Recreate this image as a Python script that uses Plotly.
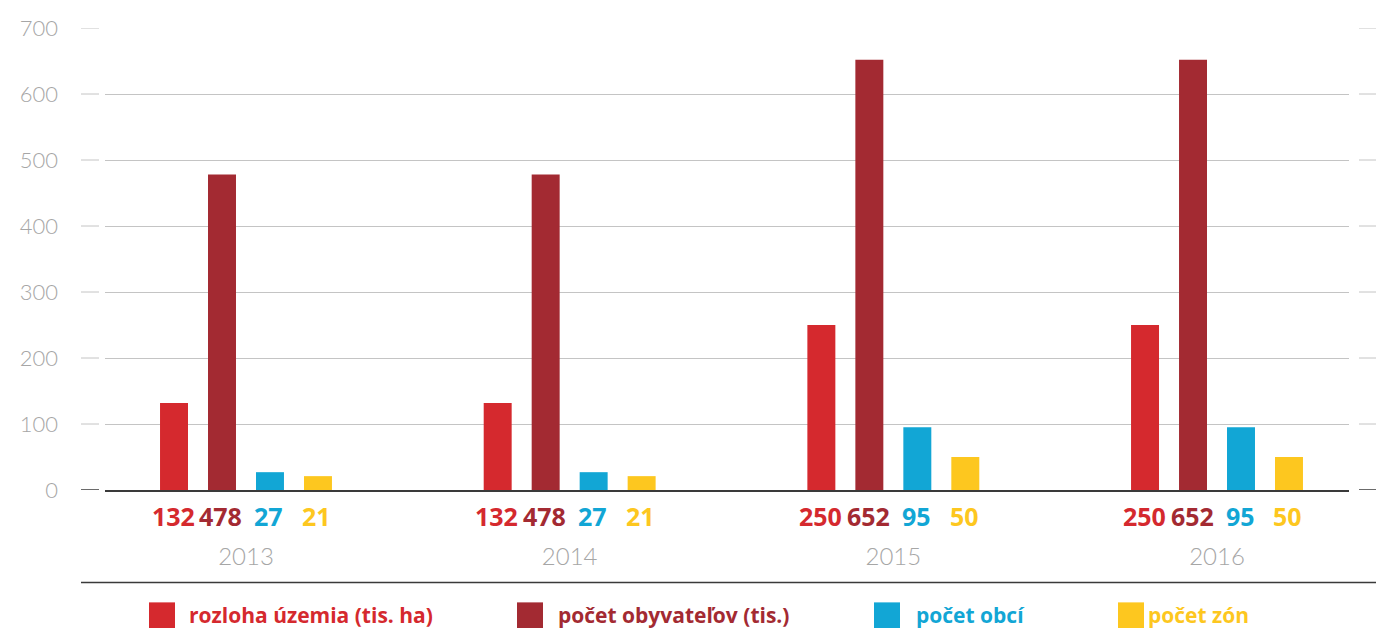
import plotly.graph_objects as go

# ---- data ----
years = ["2013", "2014", "2015", "2016"]
series_names = ["rozloha územia (tis. ha)", "počet obyvateľov (tis.)", "počet obcí", "počet zón"]
rozloha = [132, 132, 250, 250]
obyvatelia = [478, 478, 652, 652]
obce = [27, 27, 95, 95]
zony = [21, 21, 50, 50]
y_ticks = [0, 100, 200, 300, 400, 500, 600, 700]

# ---- style ----
colors = ["#d5292e", "#a32a32", "#12a6d5", "#fdc71f"]
FONT = "Lato"
BOLD_FONT = "Open Sans"
GRAY = "#a6a6a6"
GRID = "#c4c4c4"
DARK = "#3a3a3a"
BARGAP = 0.407
BARGROUPGAP = 0.417
X_RANGE = [-0.4356, 3.4078]

series = [rozloha, obyvatelia, obce, zony]

L, R, T, B = 105, 27, 28, 137.5
W, H = 1376, 628
pw = W - L - R
ph = H - T - B

def px_x(px):
    return (px - L) / pw

def px_y(py):
    return (H - B - py) / ph

fig = go.Figure()
for i, (name, vals) in enumerate(zip(series_names, series)):
    fig.add_trace(go.Bar(
        x=years, y=vals, name=name, marker=dict(color=colors[i], line=dict(width=0)),
        showlegend=False, hoverinfo="x+y+name",
    ))

# value labels under each bar (offset follows plotly's group layout)
unit_px = pw / (X_RANGE[1] - X_RANGE[0])
slot_px = (1 - BARGAP) * unit_px / len(series)
annotations = []
for i, vals in enumerate(series):
    shift = (i - (len(series) - 1) / 2) * slot_px
    for k, v in enumerate(vals):  # k = category index on the x axis
        annotations.append(dict(x=k, y=0, xref="x", yref="paper", xanchor="center", yanchor="middle",
                                xshift=shift - 1, yshift=-26, showarrow=False, text=str(v),
                                font=dict(family=BOLD_FONT, size=25, color=colors[i], weight="bold")))

shapes = []
for v in y_ticks:
    c = DARK if v == 0 else GRID
    for a, b in [(81, 99), (1359, 1376)]:
        shapes.append(dict(type="line", xref="paper", yref="y", x0=px_x(a), x1=px_x(b),
                           y0=v, y1=v, line=dict(color=c, width=1.5 if v == 0 else 1)))
# bottom rule
shapes.append(dict(type="line", xref="paper", yref="paper", x0=px_x(81), x1=px_x(1376),
                   y0=px_y(583), y1=px_y(583), line=dict(color=DARK, width=1.5)))

# custom legend
legend_sq_x = [149, 517, 874, 1118]
legend_tx_x = [187, 556, 914, 1146]
for i, name in enumerate(series_names):
    shapes.append(dict(type="rect", xref="paper", yref="paper",
                       x0=px_x(legend_sq_x[i]), x1=px_x(legend_sq_x[i] + 26),
                       y0=px_y(629), y1=px_y(603), fillcolor=colors[i], line=dict(width=0)))
    annotations.append(dict(xref="paper", yref="paper", x=px_x(legend_tx_x[i]), y=px_y(616),
                            xanchor="left", yanchor="middle", showarrow=False, text=name,
                            font=dict(family=BOLD_FONT, size=21, color=colors[i], weight="bold")))

fig.update_layout(
    width=W, height=H,
    margin=dict(l=L, r=R, t=T, b=B, pad=0),
    paper_bgcolor="white", plot_bgcolor="white",
    barmode="group", bargap=BARGAP, bargroupgap=BARGROUPGAP,
    shapes=shapes, annotations=annotations,
    showlegend=False,
    xaxis=dict(type="category", categoryorder="array", categoryarray=years,
               range=X_RANGE, showgrid=False, zeroline=False,
               showline=True, linecolor=DARK, linewidth=1.5, ticks="",
               tickfont=dict(family=FONT, size=24, color=GRAY, weight=300),
               ticklabelstandoff=44),
    yaxis=dict(range=[0, 700], tickvals=y_ticks, showgrid=True, gridcolor=GRID, gridwidth=1,
               zeroline=False, showline=False, ticks="",
               tickfont=dict(family=FONT, size=22, color=GRAY, weight=300),
               ticklabelstandoff=46),
)

fig.write_html("out.html", config={"displayModeBar": False},
               post_script="document.body.style.margin='0';document.body.style.overflow='hidden';")
